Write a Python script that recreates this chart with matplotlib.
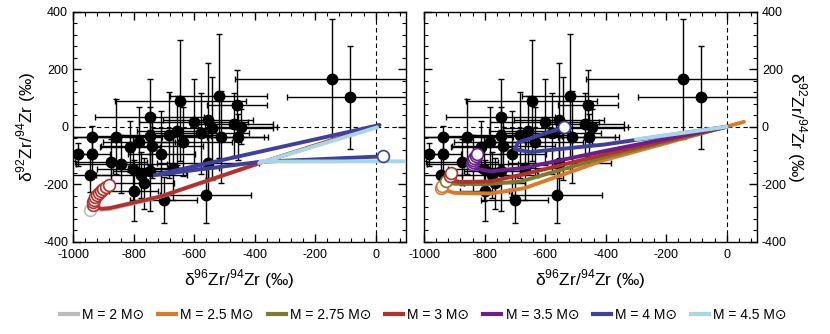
import numpy as np
import matplotlib
matplotlib.use("Agg")
import matplotlib.pyplot as plt
from matplotlib.ticker import MultipleLocator
from matplotlib.lines import Line2D

plt.rcParams['font.family'] = ['Liberation Sans Narrow', 'Liberation Sans', 'DejaVu Sans']
plt.rcParams['mathtext.fontset'] = 'custom'
plt.rcParams['mathtext.rm'] = 'Liberation Sans'
plt.rcParams['axes.unicode_minus'] = False

# grain data (same in both panels)
d96 = [-985, -938, -936, -945, -857, -875, -840, -811, -802, -775, -767, -800, -782,
       -747, -745, -739, -747, -708, -701, -645, -684, -657, -635, -668, -601, -577,
       -554, -540, -510, -518, -458, -469, -445, -456, -554, -562, -144, -84]
d92 = [-96, -96, -37, -166, -35, -124, -130, -69, -147, -168, -197, -222, -52,
       35, -32, -67, -153, -95, -255, 90, -29, -14, -52, -145, 17, -23,
       23, -6, -35, 107, 74, 9, 0, -37, -127, -238, 166, 102]
d96_err = [40, 60, 80, 70, 150, 120, 150, 100, 120, 150, 100, 80, 120,
           180, 200, 170, 120, 110, 110, 215, 180, 130, 160, 150, 180, 160,
           150, 200, 140, 160, 100, 130, 120, 100, 170, 150, 320, 210]
d92_err = [40, 60, 40, 60, 130, 80, 100, 90, 110, 80, 90, 105, 120,
           130, 100, 110, 140, 150, 80, 210, 150, 120, 120, 110, 150, 140,
           200, 180, 160, 215, 125, 110, 60, 80, 120, 97, 210, 180]

labels = ['M = 2 M⊙', 'M = 2.5 M⊙', 'M = 2.75 M⊙', 'M = 3 M⊙',
          'M = 3.5 M⊙', 'M = 4 M⊙', 'M = 4.5 M⊙']
colors = ['#bdbdbd', '#d97a2b', '#7b7b2c', '#b5302a', '#6b1e8c', '#3f3f9e', '#a9d6e5']

# panel (a) model tracks
a_m2_x = [10, -380, -710, -880, -945]
a_m2_y = [5, -125, -243, -287, -290]
a_m3_x = [10, -380, -713, -880, -905, -922, -935, -933, -930, -926, -921, -915, -908, -900, -891, -880]
a_m3_y = [5, -125, -243, -283, -285, -281, -272, -263, -254, -245, -237, -229, -222, -215, -209, -203]
a_m4_x = [13, -730, -383, 23]
a_m4_y = [6, -168, -122, -103]
a_m45_x = [5, -385, -380, 120]
a_m45_y = [-2, -126, -121, -120]
a_m2_tp = ([-945], [-290])
a_m3_tp = ([-935, -933, -930, -926, -921, -915, -908, -900, -891, -880],
           [-272, -263, -254, -245, -237, -229, -222, -215, -209, -203])
a_m4_tp = ([23], [-103])

# panel (b) model tracks
b_m25_x = [57, -406, -670, -780, -900, -930, -945]
b_m25_y = [17, -116, -214, -232, -230, -220, -209]
b_m275_x = [0, -400, -680, -800, -900, -928]
b_m275_y = [0, -105, -190, -200, -198, -190]
b_m3_x = [0, -406, -670, -780, -880, -912, -915, -912]
b_m3_y = [0, -97, -165, -190, -192, -185, -172, -162]
b_m35_x = [0, -406, -670, -780, -830, -842, -840, -837, -834, -830, -825]
b_m35_y = [0, -85, -143, -155, -145, -130, -123, -116, -109, -101, -93]
b_m4_x = [0, -406, -650, -700, -690, -620, -538]
b_m4_y = [0, -62, -88, -78, -55, -30, -2]
b_m45_x = [0, -300]
b_m45_y = [0, -44]
b_m25_tp = ([-945, -940], [-212, -205])
b_m275_tp = ([-928], [-190])
b_m3_tp = ([-915, -912], [-172, -162])
b_m35_tp = ([-842, -840, -837, -834, -830, -825], [-130, -123, -116, -109, -101, -93])
b_m4_tp = ([-538], [-2])

panel_a = [(0, a_m2_x, a_m2_y, a_m2_tp), (3, a_m3_x, a_m3_y, a_m3_tp),
           (5, a_m4_x, a_m4_y, a_m4_tp), (6, a_m45_x, a_m45_y, None)]
panel_b = [(1, b_m25_x, b_m25_y, b_m25_tp), (2, b_m275_x, b_m275_y, b_m275_tp),
           (3, b_m3_x, b_m3_y, b_m3_tp), (4, b_m35_x, b_m35_y, b_m35_tp),
           (5, b_m4_x, b_m4_y, b_m4_tp), (6, b_m45_x, b_m45_y, None)]

fig = plt.figure(figsize=(8.3, 3.34), dpi=100)
ax1 = fig.add_axes([0.088, 0.276, 0.401, 0.689])
ax2 = fig.add_axes([0.511, 0.276, 0.401, 0.689])

ylab = r'δ$^{\mathrm{92}}$Zr/$^{\mathrm{94}}$Zr (‰)'
xlab = r'δ$^{\mathrm{96}}$Zr/$^{\mathrm{94}}$Zr (‰)'

for ax, tracks in [(ax1, panel_a), (ax2, panel_b)]:
    ax.axhline(0, color='k', ls=(0, (4, 3)), lw=0.8, zorder=1)
    ax.axvline(0, color='k', ls=(0, (4, 3)), lw=0.8, zorder=1)
    ax.errorbar(d96, d92, xerr=d96_err, yerr=d92_err, fmt='o', color='k',
                ms=7.5, elinewidth=1.0, capsize=2, capthick=1.0, zorder=2)
    for ci, xs, ys, tp in tracks:
        ax.plot(xs, ys, color=colors[ci], lw=2.8, solid_capstyle='round',
                solid_joinstyle='round', zorder=3)
        if tp is not None:
            ax.plot(tp[0], tp[1], 'o', ms=8.5, mfc='white', mec=colors[ci],
                    mew=1.2, zorder=4)
    ax.set_xlim(-1000, 100)
    ax.set_ylim(-400, 400)
    ax.xaxis.set_major_locator(MultipleLocator(200))
    ax.xaxis.set_minor_locator(MultipleLocator(40))
    ax.yaxis.set_major_locator(MultipleLocator(200))
    ax.yaxis.set_minor_locator(MultipleLocator(40))
    ax.tick_params(which='both', direction='in', top=True, right=True, labelsize=9)
    ax.tick_params(which='major', length=6, width=1)
    ax.tick_params(which='minor', length=3, width=0.8)
    ax.tick_params(axis='x', pad=5)
    for s in ax.spines.values():
        s.set_linewidth(1.0)
    ax.set_xlabel(xlab, fontsize=12.5, labelpad=5)

ax1.set_ylabel(ylab, fontsize=12.5)
ax2.tick_params(labelleft=False, labelright=True)
ax2.yaxis.set_label_position('right')
ax2.set_ylabel(ylab, fontsize=12.5, rotation=270, labelpad=16)

handles = [Line2D([0], [0], color=c, lw=3) for c in colors]
fig.legend(handles, labels, loc='lower center', bbox_to_anchor=(0.51, 0.0), ncol=7,
           frameon=False, fontsize=10, handlelength=1.3, handletextpad=0.3,
           columnspacing=1.0)

fig.savefig('out.png', dpi=100)
